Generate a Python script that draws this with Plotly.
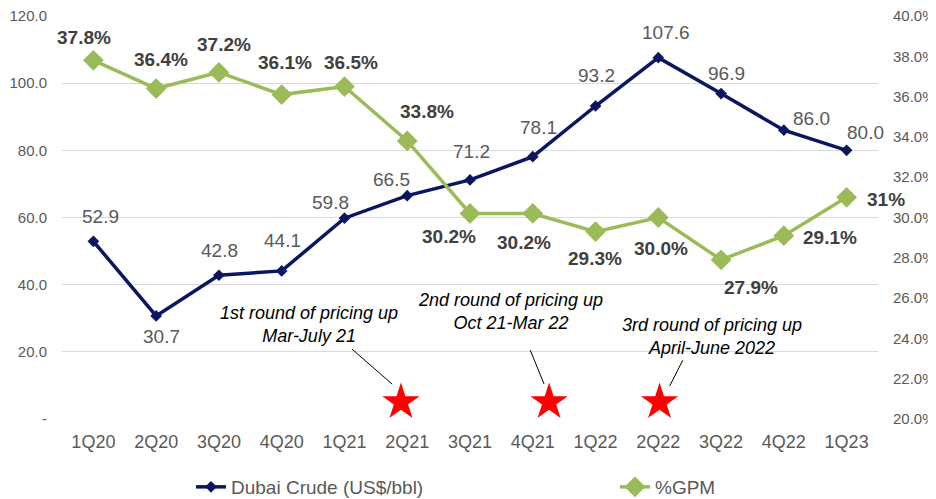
import plotly.graph_objects as go

quarters = ["1Q20", "2Q20", "3Q20", "4Q20", "1Q21", "2Q21", "3Q21",
            "4Q21", "1Q22", "2Q22", "3Q22", "4Q22", "1Q23"]
dubai_crude = [52.9, 30.7, 42.8, 44.1, 59.8, 66.5, 71.2, 78.1, 93.2, 107.6, 96.9, 86.0, 80.0]
gpm = [37.8, 36.4, 37.2, 36.1, 36.5, 33.8, 30.2, 30.2, 29.3, 30.0, 27.9, 29.1, 31.0]
gpm_labels = ["37.8%", "36.4%", "37.2%", "36.1%", "36.5%", "33.8%", "30.2%",
              "30.2%", "29.3%", "30.0%", "27.9%", "29.1%", "31%"]
left_ticks = [0, 20, 40, 60, 80, 100, 120]
left_tick_text = ["-", "20.0", "40.0", "60.0", "80.0", "100.0", "120.0"]
right_ticks = [20, 22, 24, 26, 28, 30, 32, 34, 36, 38, 40]

# pricing-up events (x in category index units, y on left axis)
star_x = [4.9, 7.26, 9.02]
star_y = [5.0, 5.0, 5.0]
notes = ["1st round of pricing up<br>Mar-July 21",
         "2nd round of pricing up<br>Oct 21-Mar 22",
         "3rd round of pricing up<br>April-June 2022"]

# layout helpers (pixel offsets of labels, annotation positions)
dubai_off = [(7, -25), (5, 21), (1, -25), (1, -30), (-14, -16), (-16, -16), (1, -28),
             (6, -29), (1, -31), (8, -25), (5, -20), (28, -12), (19, -18)]
gpm_off = [(-9, -23), (5, -29), (5, -28), (3, -32), (7, -24), (20, -29), (-21, 23),
           (-9, 29), (-1, 27), (3, 31), (30, 28), (46, 2), (39, 2)]
note_pos = [(3.44, 28.2), (6.64, 32.1), (9.85, 24.7)]
note_lines = [((4.12, 20.8), (4.76, 10.4)), ((6.96, 20.5), (7.18, 10.4)), ((9.39, 17.5), (9.18, 9.8))]

FONT = "Arial, Liberation Sans, sans-serif"
NAVY = "#0b1660"
GREEN = "#9bbb59"
xi = list(range(len(quarters)))

fig = go.Figure()
fig.add_trace(go.Scatter(
    x=xi, y=dubai_crude, name="Dubai Crude (US$/bbl)", mode="lines+markers",
    line=dict(color=NAVY, width=3.5),
    marker=dict(symbol="diamond", size=9, color=NAVY), yaxis="y", legend="legend"))
fig.add_trace(go.Scatter(
    x=xi, y=gpm, name="%GPM", mode="lines+markers",
    line=dict(color=GREEN, width=3.5),
    marker=dict(symbol="diamond", size=16, color=GREEN), yaxis="y2", legend="legend2"))
fig.add_trace(go.Scatter(
    x=star_x, y=star_y, mode="markers", showlegend=False,
    marker=dict(symbol="star", size=28, color="#ff0000", line=dict(width=0)),
    yaxis="y", hoverinfo="skip"))

ann = []
for i, v in enumerate(dubai_crude):
    dx, dy = dubai_off[i]
    ann.append(dict(x=xi[i], y=v, xref="x", yref="y", text=f"{v:.1f}", showarrow=False,
                    xshift=dx, yshift=-dy, font=dict(family=FONT, size=19, color="#595959")))
for i, v in enumerate(gpm):
    dx, dy = gpm_off[i]
    ann.append(dict(x=xi[i], y=v, xref="x", yref="y2", text=f"<b>{gpm_labels[i]}</b>", showarrow=False,
                    xshift=dx, yshift=-dy, font=dict(family=FONT, size=19, color="#404040")))
for (nx, ny), t in zip(note_pos, notes):
    ann.append(dict(x=nx, y=ny, xref="x", yref="y", text=f"<i>{t}</i>", showarrow=False,
                    font=dict(family=FONT, size=18, color="#000000")))

shapes = []
for (p0, p1) in note_lines:
    shapes.append(dict(type="line", xref="x", yref="y", x0=p0[0], y0=p0[1], x1=p1[0], y1=p1[1],
                       line=dict(color="#000000", width=1)))

# page body has an 8px margin: the figure is sized/offset to compensate
legend_style = dict(orientation="h", yref="container", yanchor="middle", y=(499 - 487) / 491,
                    xanchor="left",
                    font=dict(family=FONT, size=19, color="#595959"), bgcolor="rgba(0,0,0,0)")

fig.update_layout(
    width=928, height=491,
    margin=dict(l=54, r=58, t=8, b=80),
    paper_bgcolor="white", plot_bgcolor="white",
    font=dict(family=FONT, color="#595959"),
    xaxis=dict(range=[-0.5, 12.5], tickvals=xi, ticktext=quarters, showgrid=False,
               zeroline=False, showline=False, tickfont=dict(size=18, color="#595959"),
               ticklabelstandoff=10, automargin=False),
    yaxis=dict(range=[0, 120], tickvals=left_ticks, ticktext=left_tick_text,
               showgrid=True, gridcolor="#d9d9d9", gridwidth=1, zeroline=False,
               tickfont=dict(size=15, color="#595959"), ticklabelstandoff=14, automargin=False,
               ticklabeloverflow="allow"),
    yaxis2=dict(range=[20, 40], tickvals=right_ticks,
                ticktext=[f"{t:.1f}%" for t in right_ticks], overlaying="y", side="right",
                showgrid=False, zeroline=False, tickfont=dict(size=15, color="#595959"),
                ticklabelstandoff=14, automargin=False, ticklabeloverflow="allow"),
    legend=dict(x=(191 - 62) / 816, **legend_style),
    legend2=dict(x=(615 - 62) / 816, **legend_style),
    annotations=ann, shapes=shapes,
)
fig.write_html("out.html")
